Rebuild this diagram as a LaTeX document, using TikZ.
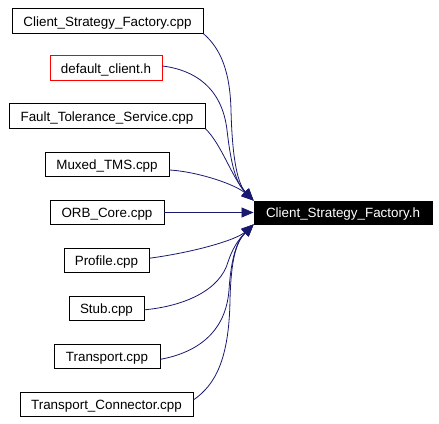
\documentclass[tikz,border=0pt]{standalone}
\usepackage{fontspec}
\setmainfont{Liberation Sans}
\usepackage{xcolor}
\usepackage{tikz}
\usetikzlibrary{arrows.meta}

\definecolor{edgeblue}{RGB}{25,25,112}

\begin{document}
\begin{tikzpicture}[x=1pt,y=-1pt,
    srcbox/.style={draw=black,line width=0.9pt,minimum height=24.5pt,inner sep=0pt,
        text height=10pt,text depth=0pt,font=\fontsize{13.4}{15}\selectfont},
    hdrbox/.style={srcbox,fill=black,text=white,minimum height=23pt},
    incl/.style={-{Triangle[length=12pt,width=10pt]},edgeblue,line width=0.8pt}]
    \useasboundingbox (0,0) rectangle (439,423);

    % Draw the header that is included
    \node[hdrbox,minimum width=178pt] (csfh) at (343,212.5) {Client\_Strategy\_Factory.h};

    % Draw the files that include it
    \node[srcbox,minimum width=191pt] (csfcpp) at (107.5,21) {Client\_Strategy\_Factory.cpp};
    \node[srcbox,draw=red,minimum width=112pt] (defclient) at (106,68) {default\_client.h};
    \node[srcbox,minimum width=196pt] (fts) at (107,116) {Fault\_Tolerance\_Service.cpp};
    \node[srcbox,minimum width=124pt] (muxed) at (107,164.5) {Muxed\_TMS.cpp};
    \node[srcbox,minimum width=114pt] (orbcore) at (107,212.5) {ORB\_Core.cpp};
    \node[srcbox,minimum width=85pt] (profile) at (106.5,260.5) {Profile.cpp};
    \node[srcbox,minimum width=75pt] (stub) at (106.5,308.5) {Stub.cpp};
    \node[srcbox,minimum width=106pt] (transport) at (107,356.5) {Transport.cpp};
    \node[srcbox,minimum width=173pt] (tconn) at (106.5,404.5) {Transport\_Connector.cpp};

    % Draw include edges
    % Upper group: into the top left corner
    \draw[incl] (csfcpp.south east) .. controls (220,48) and (230,70) .. (231,110)
        .. controls (232,150) and (236,182) .. (csfh.north west);
    \draw[incl] (defclient.2) .. controls (195,70) and (222,88) .. (227,130)
        .. controls (231,165) and (236,183) .. (csfh.north west);
    \draw[incl] (fts.south east) .. controls (222,145) and (232,178) .. (csfh.north west);
    \draw[incl] (muxed.-5) .. controls (200,172) and (236,185) .. (csfh.north west);

    % Middle: straight in
    \draw[incl] (orbcore) -- (csfh);

    % Lower group: into the bottom left corner
    \draw[incl] (profile.3) .. controls (195,252) and (236,240) .. (csfh.south west);
    \draw[incl] (stub.-2) .. controls (185,306) and (220,290) .. (228,262)
        .. controls (232,250) and (237,241) .. (csfh.south west);
    \draw[incl] (transport.-3) .. controls (200,352) and (226,330) .. (229,290)
        .. controls (231,260) and (236,242) .. (csfh.south west);
    \draw[incl] (tconn.3) .. controls (215,385) and (229,360) .. (230,300)
        .. controls (231,260) and (236,242) .. (csfh.south west);
\end{tikzpicture}
\end{document}
